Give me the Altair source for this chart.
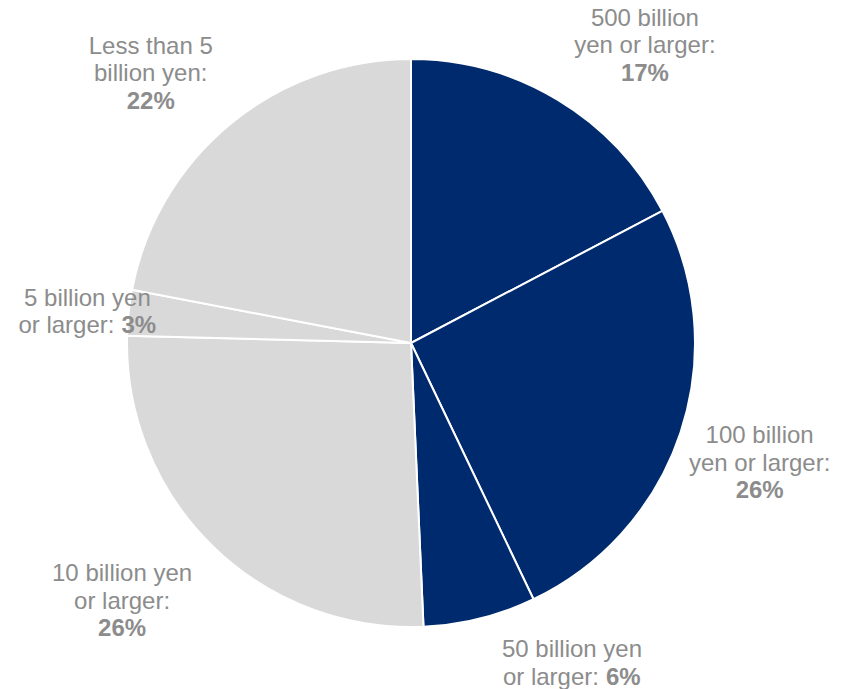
import altair as alt
import pandas as pd

# ---- data ----
categories = ["500 billion yen or larger", "100 billion yen or larger", "50 billion yen or larger",
              "10 billion yen or larger", "5 billion yen or larger", "Less than 5 billion yen"]
shares = [17.3, 25.6, 6.4, 26.1, 2.6, 22.0]
groups = ["large", "large", "large", "small", "small", "small"]
label_line1 = ["500 billion", "100 billion", "50 billion yen", "10 billion yen", "5 billion yen", "Less than 5"]
label_line2 = ["yen or larger:", "yen or larger:", "or larger:", "or larger:", "or larger:", "billion yen:"]
label_pct = ["17%", "26%", "6%", "26%", "3%", "22%"]
pct_inline = [False, False, True, False, True, False]

# ---- label layout (angle shift in % of the circle from slice middle, radius in px) ----
label_shift = [1.97, 0.21, -3.5, 1.02, -0.21, -1.25]
label_radius = [378, 369, 359, 388, 325, 374]

NAVY = "#002A6E"
LIGHT = "#D9D9D9"
TEXT = "#8C8C8C"
FONT = "Liberation Sans"
FS = 24
LH = 27.5

df = pd.DataFrame({"category": categories, "share": shares, "group": groups,
                   "l1": label_line1, "l2": label_line2, "pct": label_pct, "inline": pct_inline})
df["end"] = df["share"].cumsum()
df["start"] = df["end"] - df["share"]
df["mid"] = (df["start"] + df["end"]) / 2
df["label_theta"] = df["mid"] + pd.Series(label_shift)
df["label_r"] = label_radius

theta_scale = alt.Scale(domain=[0, 100])
base = alt.Chart(df)

arc = base.mark_arc(radius=284, stroke="white", strokeWidth=2).encode(
    theta=alt.Theta("start:Q", scale=theta_scale, stack=None),
    theta2="end:Q",
    color=alt.Color("group:N", scale=alt.Scale(domain=["large", "small"], range=[NAVY, LIGHT]), legend=None),
    order=alt.Order("start:Q"),
)

pos = dict(
    theta=alt.Theta("label_theta:Q", scale=theta_scale, stack=None),
    radius=alt.Radius("label_r:Q", scale=None),
)
txt = dict(font=FONT, fontSize=FS, color=TEXT, baseline="middle")

three = base.transform_filter("!datum.inline")
two = base.transform_filter("datum.inline")

layers = [
    arc,
    # three-line labels
    three.mark_text(align="center", dy=-LH, **txt).encode(text="l1:N", **pos),
    three.mark_text(align="center", dy=0, **txt).encode(text="l2:N", **pos),
    three.mark_text(align="center", dy=LH, fontWeight="bold", **txt).encode(text="pct:N", **pos),
    # two-line labels with inline bold share
    two.mark_text(align="center", dy=-LH / 2, **txt).encode(text="l1:N", **pos),
    two.mark_text(align="right", dx=27, dy=LH / 2, **txt).encode(text="l2:N", **pos),
    two.mark_text(align="left", dx=34, dy=LH / 2, fontWeight="bold", **txt).encode(text="pct:N", **pos),
]

chart = alt.layer(*layers).properties(
    width=822, height=686,
    autosize=alt.AutoSizeParams(type="none"),
    padding={"left": 0, "top": 0, "right": 23, "bottom": 3},
).configure_view(stroke=None).configure(background="white")

chart.save("out.html", embed_options={"renderer": "svg", "actions": False})
